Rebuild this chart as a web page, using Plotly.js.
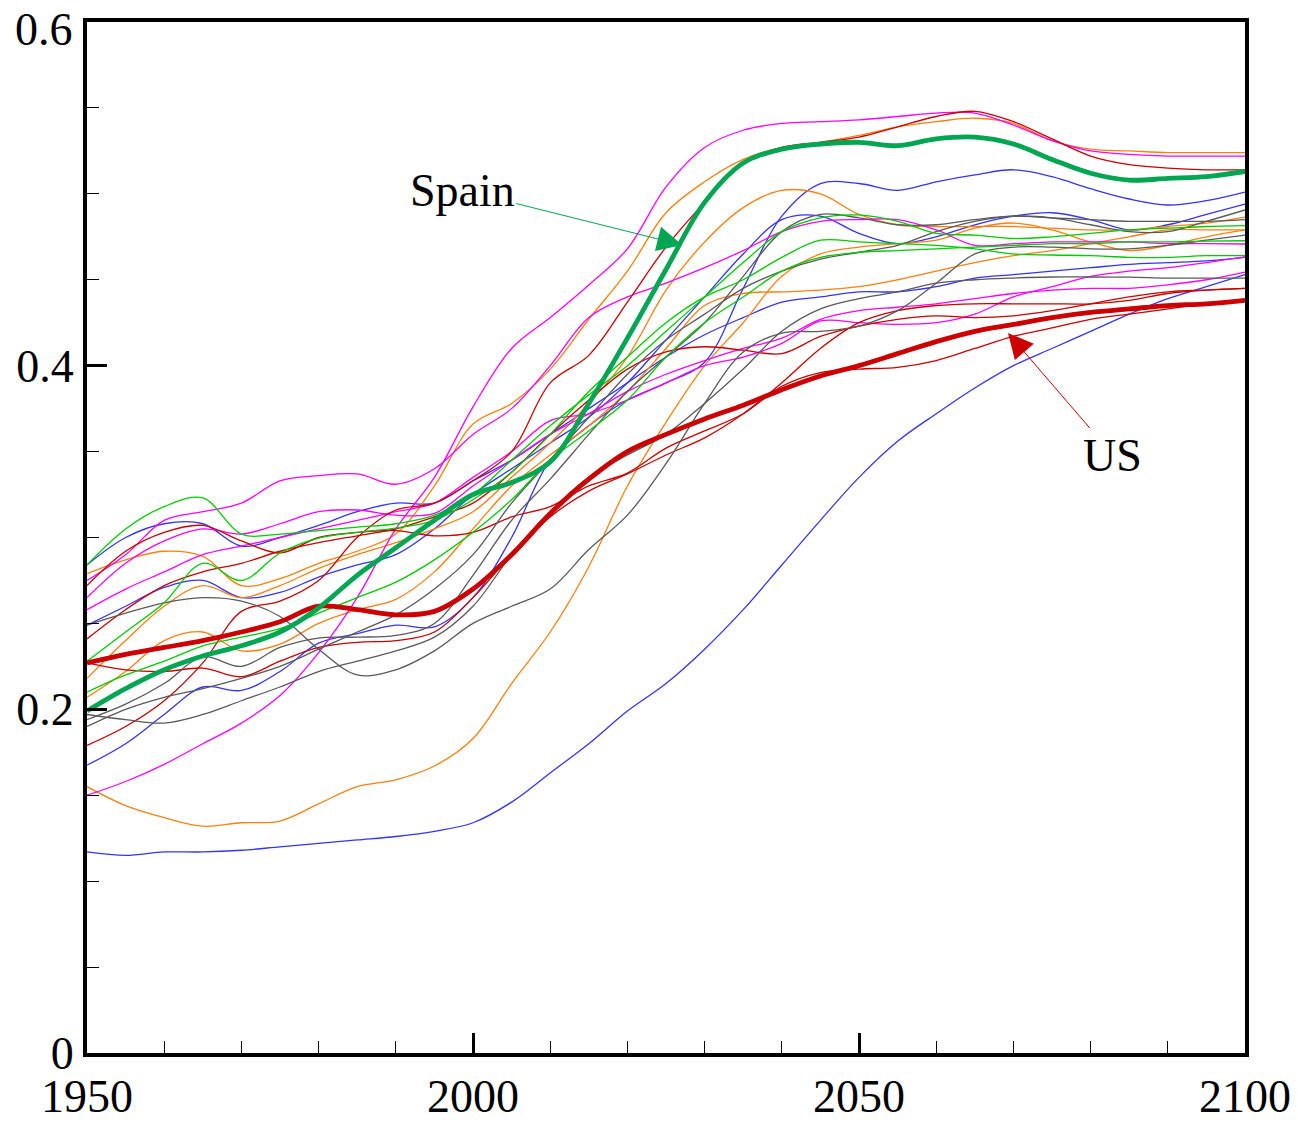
<!DOCTYPE html>
<html>
<head>
<meta charset="utf-8">
<script src="https://cdn.plot.ly/plotly-3.0.1.min.js"></script>
<style>html,body{margin:0;padding:0;background:#fff;}#chart{width:1298px;height:1125px;}</style>
</head>
<body>
<div id="chart"></div>
<script>
// Years (5-year steps)
const years = [1950,1955,1960,1965,1970,1975,1980,1985,1990,1995,2000,2005,2010,2015,2020,2025,2030,2035,2040,2045,2050,2055,2060,2065,2070,2075,2080,2085,2090,2095,2100];

// Axis tick labels (the top label 0.6 is drawn as an annotation so it is not cut by the page edge)
const yTickVals = [0, 0.2, 0.4, 0.6];
const yTickText = ['0', '0.2', '0.4', ''];
const yTopLabel = '0.6';
const xTickVals = [1950, 2000, 2050, 2100];
const xTickText = ['1950', '2000', '2050', '2100'];

// Highlighted series
const spain = [.199,.212,.223,.231,.237,.245,.259,.278,.294,.31,.325,.332,.344,.378,.416,.456,.495,.518,.526,.529,.53,.528,.532,.533,.529,.52,.512,.508,.509,.51,.513];
const us    = [.227,.232,.236,.24,.245,.251,.26,.258,.255,.257,.27,.29,.314,.334,.35,.36,.369,.377,.386,.394,.4,.407,.414,.42,.424,.428,.431,.433,.435,.436,.438];

// Other countries (thin lines)
const blueLow   = [.117,.115,.117,.117,.118,.12,.122,.124,.126,.129,.134,.146,.163,.18,.199,.215,.235,.258,.284,.31,.335,.356,.372,.387,.4,.41,.42,.43,.439,.446,.453];
const blueUp    = [.1675,.18,.197,.213,.211,.222,.2385,.244,.249,.248,.265,.3,.345,.365,.38,.39,.402,.445,.487,.506,.506,.502,.507,.511,.514,.51,.503,.497,.4935,.496,.501];
const blueBump  = [.249,.26,.271,.275,.265,.268,.277,.284,.29,.305,.325,.34,.355,.37,.39,.415,.44,.465,.485,.487,.477,.471,.475,.482,.487,.489,.485,.479,.482,.488,.494];
const blueMid   = [.284,.3,.308,.308,.295,.3,.307,.315,.32,.32,.333,.345,.36,.375,.39,.405,.418,.428,.437,.44,.443,.443,.446,.451,.453,.455,.457,.459,.46,.461,.463];

const orangeLow = [.155,.144,.137,.132,.134,.135,.145,.155,.159,.167,.183,.215,.245,.283,.33,.367,.4,.425,.452,.465,.469,.471,.473,.48,.483,.479,.472,.467,.47,.475,.479];
const orangeTop = [.279,.287,.292,.289,.272,.276,.285,.292,.302,.33,.366,.378,.398,.427,.455,.489,.507,.52,.527,.53,.534,.539,.542,.544,.541,.531,.526,.525,.524,.524,.524];
const orangeMid = [.218,.24,.26,.272,.265,.272,.282,.29,.297,.305,.315,.335,.355,.378,.405,.444,.472,.492,.502,.5,.488,.482,.481,.481,.481,.48,.479,.479,.481,.483,.4865];
const orange4   = [.207,.222,.24,.245,.234,.238,.25,.258,.264,.28,.305,.33,.348,.365,.385,.41,.435,.442,.443,.444,.446,.45,.455,.46,.464,.467,.471,.475,.479,.479,.479];

const magLow    = [.15,.158,.168,.18,.192,.208,.233,.265,.305,.335,.376,.41,.428,.447,.468,.504,.527,.537,.541,.542,.543,.545,.547,.547,.54,.531,.525,.523,.522,.522,.522];
const mag1      = [.275,.29,.31,.315,.32,.333,.336,.337,.331,.34,.36,.375,.4,.428,.44,.448,.457,.467,.478,.484,.485,.485,.479,.47,.471,.472,.472,.472,.471,.471,.4708];
const mag2      = [.265,.285,.298,.305,.302,.308,.315,.316,.313,.314,.33,.345,.36,.372,.385,.395,.403,.41,.416,.427,.432,.434,.436,.439,.442,.444,.445,.445,.447,.45,.4545];
const mag3      = [.258,.27,.28,.29,.295,.3,.305,.31,.315,.32,.335,.35,.368,.372,.38,.39,.4,.405,.413,.426,.425,.424,.425,.43,.44,.446,.452,.455,.457,.46,.4633];

const redTop    = [.179,.19,.205,.227,.257,.263,.275,.3,.316,.32,.333,.35,.39,.406,.437,.469,.495,.518,.527,.53,.533,.539,.545,.548,.542,.532,.522,.517,.515,.514,.514];
const red1      = [.272,.292,.303,.307,.298,.291,.3,.303,.304,.301,.303,.312,.318,.33,.3375,.352,.362,.372,.388,.396,.398,.399,.403,.41,.417,.422,.427,.43,.433,.436,.438];
const red2      = [.241,.258,.272,.28,.285,.292,.297,.301,.305,.312,.32,.338,.36,.38,.398,.408,.411,.409,.407,.417,.423,.427,.429,.428,.429,.432,.436,.44,.443,.444,.445];
const red4      = [.227,.223,.222,.224,.219,.228,.236,.239,.24,.245,.265,.29,.312,.327,.337,.348,.358,.372,.39,.41,.425,.432,.435,.436,.436,.436,.436,.438,.442,.444,.445];

const gray1     = [.249,.256,.262,.265,.263,.254,.235,.22,.223,.234,.25,.26,.27,.293,.313,.343,.378,.408,.419,.42,.423,.432,.448,.465,.469,.469,.468,.468,.47,.473,.476];
const grayA     = [.194,.203,.215,.2305,.225,.236,.2415,.242,.243,.25,.278,.31,.334,.36,.385,.405,.425,.452,.478,.488,.486,.482,.482,.485,.487,.486,.485,.484,.484,.484,.485];
const grayB     = [.19,.2,.207,.212,.218,.225,.235,.245,.255,.27,.29,.32,.345,.37,.395,.415,.43,.445,.455,.462,.466,.47,.478,.484,.487,.486,.482,.478,.478,.484,.4906];
const gray3     = [.197,.194,.192,.197,.205,.213,.222,.228,.234,.242,.26,.29,.315,.335,.348,.36,.378,.398,.42,.433,.439,.443,.448,.45,.451,.4516,.4516,.4515,.451,.451,.451];

const greenTop  = [.284,.305,.318,.323,.302,.302,.304,.306,.308,.313,.325,.345,.365,.383,.4,.42,.44,.46,.478,.486,.4877,.484,.477,.476,.474,.475,.477,.479,.48,.481,.4815];
const greenDip  = [.228,.245,.262,.285,.275,.291,.2997,.303,.3055,.31,.322,.338,.36,.385,.405,.425,.44,.45,.463,.473,.472,.471,.47,.468,.465,.4644,.464,.463,.463,.464,.464];
const greenLow  = [.21,.22,.228,.237,.242,.247,.256,.265,.274,.287,.303,.322,.345,.362,.38,.405,.425,.44,.455,.463,.466,.467,.468,.469,.47,.471,.471,.472,.472,.4725,.4727];

const BLUE='#3333ff', ORANGE='#ff7f0e', MAGENTA='#ff00ff', RED='#cc0000', GRAY='#5a5a5a', GREEN='#00cc00';
const thin = [
  [blueLow,BLUE],[blueUp,BLUE],[blueBump,BLUE],[blueMid,BLUE],
  [orangeLow,ORANGE],[orangeTop,ORANGE],[orangeMid,ORANGE],[orange4,ORANGE],
  [magLow,MAGENTA],[mag1,MAGENTA],[mag2,MAGENTA],[mag3,MAGENTA],
  [redTop,RED],[red1,RED],[red2,RED],[red4,RED],
  [gray1,GRAY],[grayA,GRAY],[grayB,GRAY],[gray3,GRAY],
  [greenTop,GREEN],[greenDip,GREEN],[greenLow,GREEN]
];
const traces = thin.map(([ys,c]) => ({
  x: years, y: ys, type:'scatter', mode:'lines',
  line:{color:c, width:1.3, shape:'spline', smoothing:1}, hoverinfo:'skip'
}));
traces.push({x:years, y:us, type:'scatter', mode:'lines', name:'US',
  line:{color:'#cc0000', width:4.8, shape:'spline', smoothing:1}});
traces.push({x:years, y:spain, type:'scatter', mode:'lines', name:'Spain',
  line:{color:'#00a651', width:4.8, shape:'spline', smoothing:1}});

const FONT = '"Liberation Serif", "Times New Roman", Times, serif';
const layout = {
  width:1298, height:1125,
  margin:{l:87, r:53, t:22, b:72},
  paper_bgcolor:'#ffffff', plot_bgcolor:'#ffffff',
  showlegend:false,
  font:{family:FONT, size:46, color:'#000'},
  xaxis:{
    range:[1950,2100], autorange:false,
    tickmode:'array', tickvals:xTickVals, ticktext:xTickText,
    ticks:'inside', ticklen:20, tickwidth:3, tickcolor:'#000',
    showline:true, linewidth:4, linecolor:'#000', mirror:true,
    showgrid:false, zeroline:false, automargin:false, ticklabeloverflow:'allow',
    tickfont:{family:FONT, size:46, color:'#000'},
    minor:{dtick:10, tick0:1950, ticks:'inside', ticklen:12, tickwidth:1, tickcolor:'#000', showgrid:false}
  },
  yaxis:{
    range:[0,0.6], autorange:false,
    tickmode:'array', tickvals:yTickVals, ticktext:yTickText,
    ticks:'inside', ticklen:20, tickwidth:3, tickcolor:'#000',
    showline:true, linewidth:4, linecolor:'#000', mirror:true,
    showgrid:false, zeroline:false, automargin:false, ticklabeloverflow:'allow',
    tickfont:{family:FONT, size:46, color:'#000'},
    minor:{dtick:0.05, tick0:0, ticks:'inside', ticklen:12, tickwidth:1, tickcolor:'#000', showgrid:false}
  },
  annotations:[
    {x:0, y:0.6, xref:'paper', yref:'y', xanchor:'right', yanchor:'middle', xshift:-13, yshift:-7,
     text:yTopLabel, showarrow:false, borderpad:0, font:{family:FONT, size:46, color:'#000'}},
    {x:2027.1, y:0.4702, xref:'x', yref:'y', ax:1998.6, ay:0.5022, axref:'x', ayref:'y',
     text:'Spain', showarrow:true, arrowhead:2, arrowsize:5, arrowwidth:1, arrowcolor:'#00a651',
     font:{family:FONT, size:46, color:'#000'}},
    {x:2069.3, y:0.419, xref:'x', yref:'y', ax:2082.9, ay:0.348, axref:'x', ayref:'y',
     text:'US', showarrow:true, arrowhead:2, arrowsize:5, arrowwidth:1, arrowcolor:'#cc0000',
     font:{family:FONT, size:46, color:'#000'}}
  ]
};
Plotly.newPlot('chart', traces, layout, {staticPlot:true, displayModeBar:false});
</script>
</body>
</html>
